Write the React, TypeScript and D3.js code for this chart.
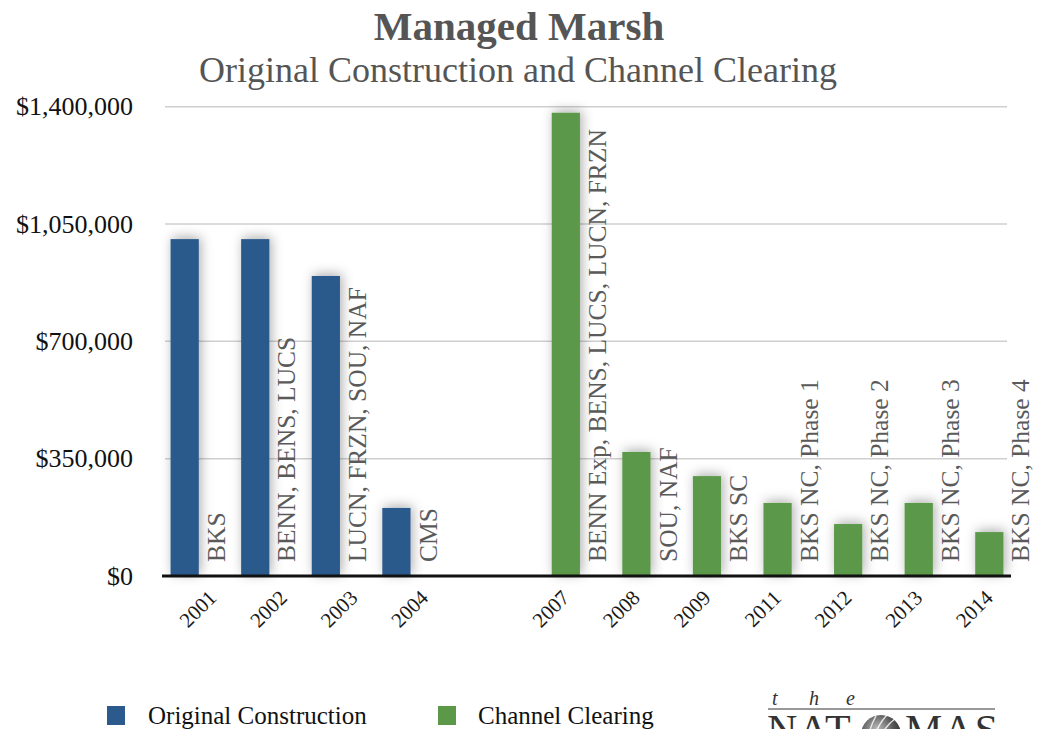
import React from "react";
import * as d3 from "d3";

const categories = ["2001", "2002", "2003", "2004", "", "2007", "2008", "2009", "2011", "2012", "2013", "2014"];
const originalConstruction: (number | null)[] = [1005000, 1005000, 895000, 203000, null, null, null, null, null, null, null, null];
const channelClearing: (number | null)[] = [null, null, null, null, null, 1382000, 370000, 298000, 218000, 155000, 218000, 131000];
const barLabels = [
  "BKS",
  "BENN, BENS, LUCS",
  "LUCN, FRZN, SOU, NAF",
  "CMS",
  "",
  "BENN Exp, BENS, LUCS, LUCN, FRZN",
  "SOU, NAF",
  "BKS SC",
  "BKS NC, Phase 1",
  "BKS NC, Phase 2",
  "BKS NC, Phase 3",
  "BKS NC, Phase 4",
];
const yTicks = [0, 350000, 700000, 1050000, 1400000];
const seriesNames = ["Original Construction", "Channel Clearing"];
const seriesColors = ["#2C5A8C", "#5B9848"];

const W = 1046;
const H = 729;
const FONT = "'Liberation Serif', 'Times New Roman', serif";

export default function App() {
  const x = d3.scaleBand<string>().domain(categories.map((_, i) => String(i))).range([163.5, 1010.5]).padding(0);
  const sub = d3.scaleBand<string>().domain(["0", "1"]).range([0, x.bandwidth()]).paddingInner(0).paddingOuter(0.25);
  const y = d3.scaleLinear().domain([0, 1400000]).range([576, 106.7]);
  const fmt = (v: number) => "$" + d3.format(",")(v);

  const bars: { i: number; s: number; v: number }[] = [];
  categories.forEach((_, i) => {
    const a = originalConstruction[i];
    const b = channelClearing[i];
    if (a != null) bars.push({ i, s: 0, v: a });
    if (b != null) bars.push({ i, s: 1, v: b });
  });

  return (
    <svg width={W} height={H} style={{ position: "absolute", left: 0, top: 0, background: "#fff" }} fontFamily={FONT}>
      <defs>
        <filter id="shadow" x="-100%" y="-20%" width="300%" height="140%">
          <feDropShadow dx="2" dy="-2" stdDeviation="6" floodColor="#000" floodOpacity="0.32" />
        </filter>
        <radialGradient id="globe" cx="0.4" cy="0.35" r="0.7">
          <stop offset="0" stopColor="#bbb" />
          <stop offset="0.6" stopColor="#555" />
          <stop offset="1" stopColor="#222" />
        </radialGradient>
      </defs>
      <rect width={W} height={H} fill="#fff" />

      {/* titles */}
      <text x={519} y={40} textAnchor="middle" fontSize={41} fontWeight="bold" fill="#555">
        Managed Marsh
      </text>
      <text x={518} y={82} textAnchor="middle" fontSize={36} fill="#555">
        Original Construction and Channel Clearing
      </text>

      {/* gridlines */}
      {yTicks.filter((t) => t > 0).map((t) => (
        <line key={t} x1={165} x2={1007} y1={y(t)} y2={y(t)} stroke="#cfcfcf" strokeWidth={1.5} />
      ))}

      {/* y tick labels */}
      {yTicks.map((t) => (
        <text key={t} x={133} y={y(t) + 8.5} textAnchor="end" fontSize={26} fill="#111">
          {fmt(t)}
        </text>
      ))}

      {/* bars */}
      <g filter="url(#shadow)">
        {bars.map((b) => (
          <rect
            key={b.i + "-" + b.s}
            x={(x(String(b.i)) as number) + (sub(String(b.s)) as number)}
            y={y(b.v)}
            width={sub.bandwidth()}
            height={y(0) - y(b.v)}
            fill={seriesColors[b.s]}
          />
        ))}
      </g>

      {/* bar labels */}
      {bars.map((b) => {
        const bx = (x(String(b.i)) as number) + (sub(String(b.s)) as number) + sub.bandwidth() + 26;
        return (
          <text key={"l" + b.i} transform={`translate(${bx},562) rotate(-90)`} fontSize={25.5} fill="#5a5a5a">
            {barLabels[b.i]}
          </text>
        );
      })}

      {/* baseline */}
      <line x1={162} x2={1011} y1={y(0)} y2={y(0)} stroke="#111" strokeWidth={3} />

      {/* x tick labels */}
      {categories.map((c, i) =>
        c ? (
          <text
            key={"x" + i}
            transform={`translate(${(x(String(i)) as number) + x.bandwidth() / 2 + 19},599) rotate(-45)`}
            textAnchor="end"
            fontSize={21}
            fill="#1a1a1a"
          >
            {c}
          </text>
        ) : null
      )}

      {/* legend */}
      <rect x={107} y={706} width={18} height={19} fill={seriesColors[0]} />
      <text x={148} y={724} fontSize={25} fill="#111">
        {seriesNames[0]}
      </text>
      <rect x={438} y={706} width={18} height={19} fill={seriesColors[1]} />
      <text x={478} y={724} fontSize={25} fill="#111">
        {seriesNames[1]}
      </text>

      {/* logo */}
      <g fill="#333">
        <text x={772} y={705} fontSize={20} fontStyle="italic">t</text>
        <text x={809} y={705} fontSize={20} fontStyle="italic">h</text>
        <text x={846} y={705} fontSize={20} fontStyle="italic">e</text>
        <line x1={768} x2={995} y1={709} y2={709} stroke="#333" strokeWidth={1} />
        <text x={767} y={744} fontSize={42} letterSpacing={1}>NAT</text>
        <circle cx={881} cy={735} r={20} fill="url(#globe)" />
        <path d="M872,745 Q876,725 890,712 M878,745 Q882,728 896,718 M868,744 Q868,730 876,716" stroke="#fff" strokeWidth={1.5} fill="none" opacity={0.8} />
        <text x={905} y={744} fontSize={42} letterSpacing={1}>MAS</text>
      </g>
    </svg>
  );
}
